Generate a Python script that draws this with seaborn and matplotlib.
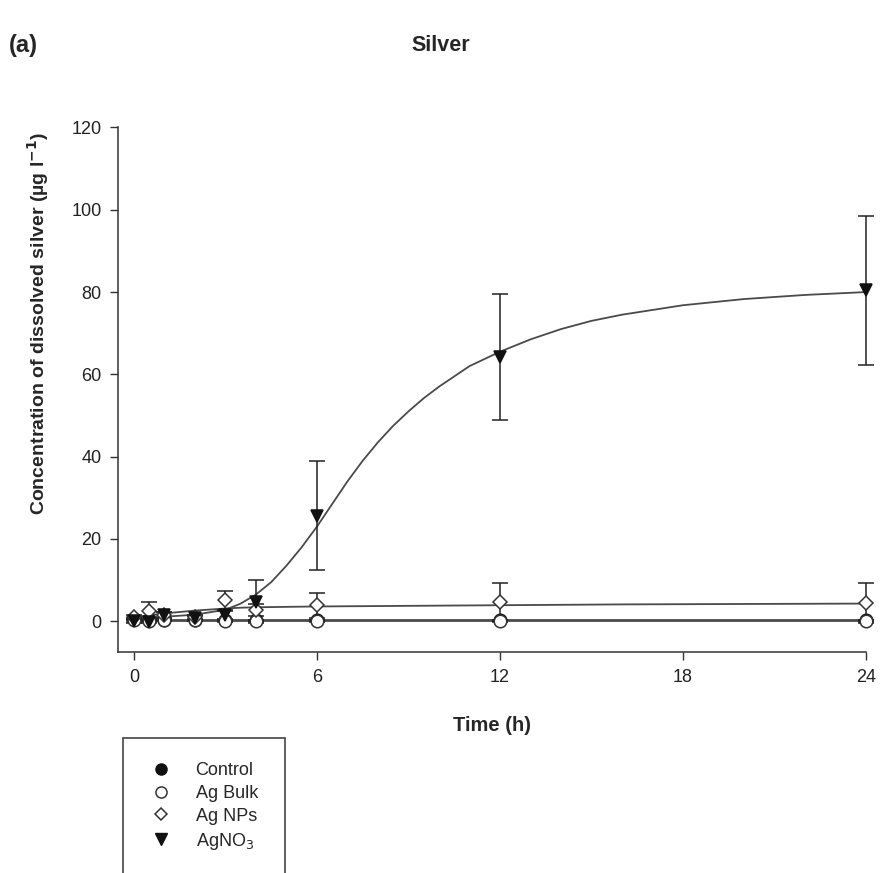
import numpy as np
import pandas as pd
import matplotlib
matplotlib.use("Agg")
import matplotlib.pyplot as plt
from matplotlib.patches import Rectangle
from matplotlib.lines import Line2D
import seaborn as sns

# measured time points (h)
times = [0, 0.5, 1, 2, 3, 4, 6, 12, 24]
control = [0.5, 0.3, 0.3, 0.2, 0.2, 0.2, 0.2, 0.2, 0.2]
control_err = [0.3, 0.2, 0.2, 0.2, 0.2, 0.2, 0.2, 0.2, 0.2]
bulk = [0.2, 0.1, 0.3, 0.2, 0.1, 0.1, 0.1, 0.1, 0.1]
bulk_err = [0.3, 0.2, 0.3, 0.2, 0.2, 0.2, 0.2, 0.2, 0.2]
nps = [1.0, 2.5, 1.5, 1.0, 5.1, 2.7, 3.9, 4.7, 4.4]
nps_err = [0.5, 2.1, 0.8, 0.5, 2.3, 1.5, 3.0, 4.5, 4.9]
agno3 = [0.0, -0.2, 1.5, 0.7, 1.5, 4.8, 25.7, 64.2, 80.4]
agno3_err = [0.3, 0.3, 0.8, 0.5, 1.0, 5.2, 13.3, 15.3, 18.2]

# fitted curves
fit_t = [0, 1, 2, 3, 3.5, 4, 4.5, 5, 5.5, 6, 6.5, 7, 7.5, 8, 8.5, 9, 9.5, 10, 11,
         12, 13, 14, 15, 16, 18, 20, 22, 24]
fit_agno3 = [0.8, 1.1, 1.6, 2.8, 4.3, 6.5, 9.5, 13.5, 18, 23, 28.5, 34, 39, 43.5,
             47.5, 51, 54.2, 57, 62, 65.5, 68.5, 71, 73, 74.5, 76.8, 78.3, 79.3, 80]
fit_nps = [1.0, 1.9, 2.6, 3.1, 3.3, 3.4, 3.45, 3.5, 3.55, 3.6, 3.62, 3.65, 3.67,
           3.7, 3.72, 3.75, 3.77, 3.8, 3.85, 3.9, 3.95, 4.0, 4.05, 4.1, 4.15, 4.2,
           4.25, 4.3]
fit_bulk = [0.2] * len(fit_t)
fit_control = [0.0] * len(fit_t)

labels = ["Control", "Ag Bulk", "Ag NPs", "AgNO$_3$"]

sns.set_style("ticks")
plt.rcParams['font.family'] = ['Liberation Sans', 'DejaVu Sans']

fig = plt.figure(figsize=(8.81, 8.73), dpi=100)
ax = fig.add_axes([0.134, 0.253, 0.849, 0.601])

curves = pd.DataFrame({
    "t": fit_t * 4,
    "y": fit_control + fit_bulk + fit_nps + fit_agno3,
    "series": sum([[s] * len(fit_t) for s in labels], []),
})
sns.lineplot(data=curves, x="t", y="y", units="series", estimator=None,
             color="#4a4a4a", lw=1.3, ax=ax, legend=False)

series = [
    (control, control_err, "o", "#111111", "#111111"),
    (bulk, bulk_err, "o", "white", "#333333"),
    (nps, nps_err, "D", "white", "#333333"),
    (agno3, agno3_err, "v", "#111111", "#111111"),
]
for vals, err, mk, fc, ec in series:
    ms = 7 if mk == "D" else 9
    eb = ax.errorbar(times, vals, yerr=err, fmt="none", ecolor="#222222",
                     elinewidth=1.1, capsize=6, capthick=1.1, zorder=3)
    for art in eb.lines[1] + eb.lines[2]:
        art.set_clip_on(False)
    ax.plot(times, vals, ls="none", marker=mk, ms=ms, mfc=fc, mec=ec,
            mew=1.1, zorder=4, clip_on=False)

ax.set_xlim(-0.52, 24)
ax.set_ylim(-7.5, 120)
ax.set_xticks([0, 6, 12, 18, 24])
ax.set_yticks(range(0, 121, 20))
sns.despine(ax=ax)
for s in ["left", "bottom"]:
    ax.spines[s].set_color("#333333")
    ax.spines[s].set_linewidth(1.1)
ax.tick_params(direction="out", length=6, width=1.0, color="#333333",
               labelsize=13, labelcolor="#222222", pad=6)
ax.set_xlabel("Time (h)", fontsize=14.5, fontweight="bold", labelpad=22)
ax.set_ylabel("Concentration of dissolved silver (\u00b5g l$^{\\mathbf{-1}}$)",
              fontsize=14, fontweight="bold")
ax.yaxis.set_label_coords(-0.09, 0.627)

fig.text(0.5, 0.948, "Silver", ha="center", va="center", fontsize=15.5,
         fontweight="bold")
fig.text(0.01, 0.948, "(a)", ha="left", va="center", fontsize=17,
         fontweight="bold")

# legend box (runs off the bottom of the figure)
fig.patches.append(Rectangle((123 / 881, -0.02), 162 / 881, 1 - 738 / 873 + 0.02,
                             transform=fig.transFigure, fill=False,
                             ec="#444444", lw=1.2))
handles = [
    Line2D([], [], ls="none", marker="o", ms=8, mfc="#111111", mec="#111111"),
    Line2D([], [], ls="none", marker="o", ms=8, mfc="white", mec="#333333", mew=1.1),
    Line2D([], [], ls="none", marker="D", ms=6.5, mfc="white", mec="#333333", mew=1.1),
    Line2D([], [], ls="none", marker="v", ms=8, mfc="#111111", mec="#111111"),
]
fig.legend(handles, labels, loc="upper left", bbox_to_anchor=(145 / 881, 1 - 755 / 873),
           frameon=False, fontsize=13, handlelength=1.0, handletextpad=1.4,
           labelspacing=0.32, borderaxespad=0)

fig.savefig("out.png", dpi=100)
